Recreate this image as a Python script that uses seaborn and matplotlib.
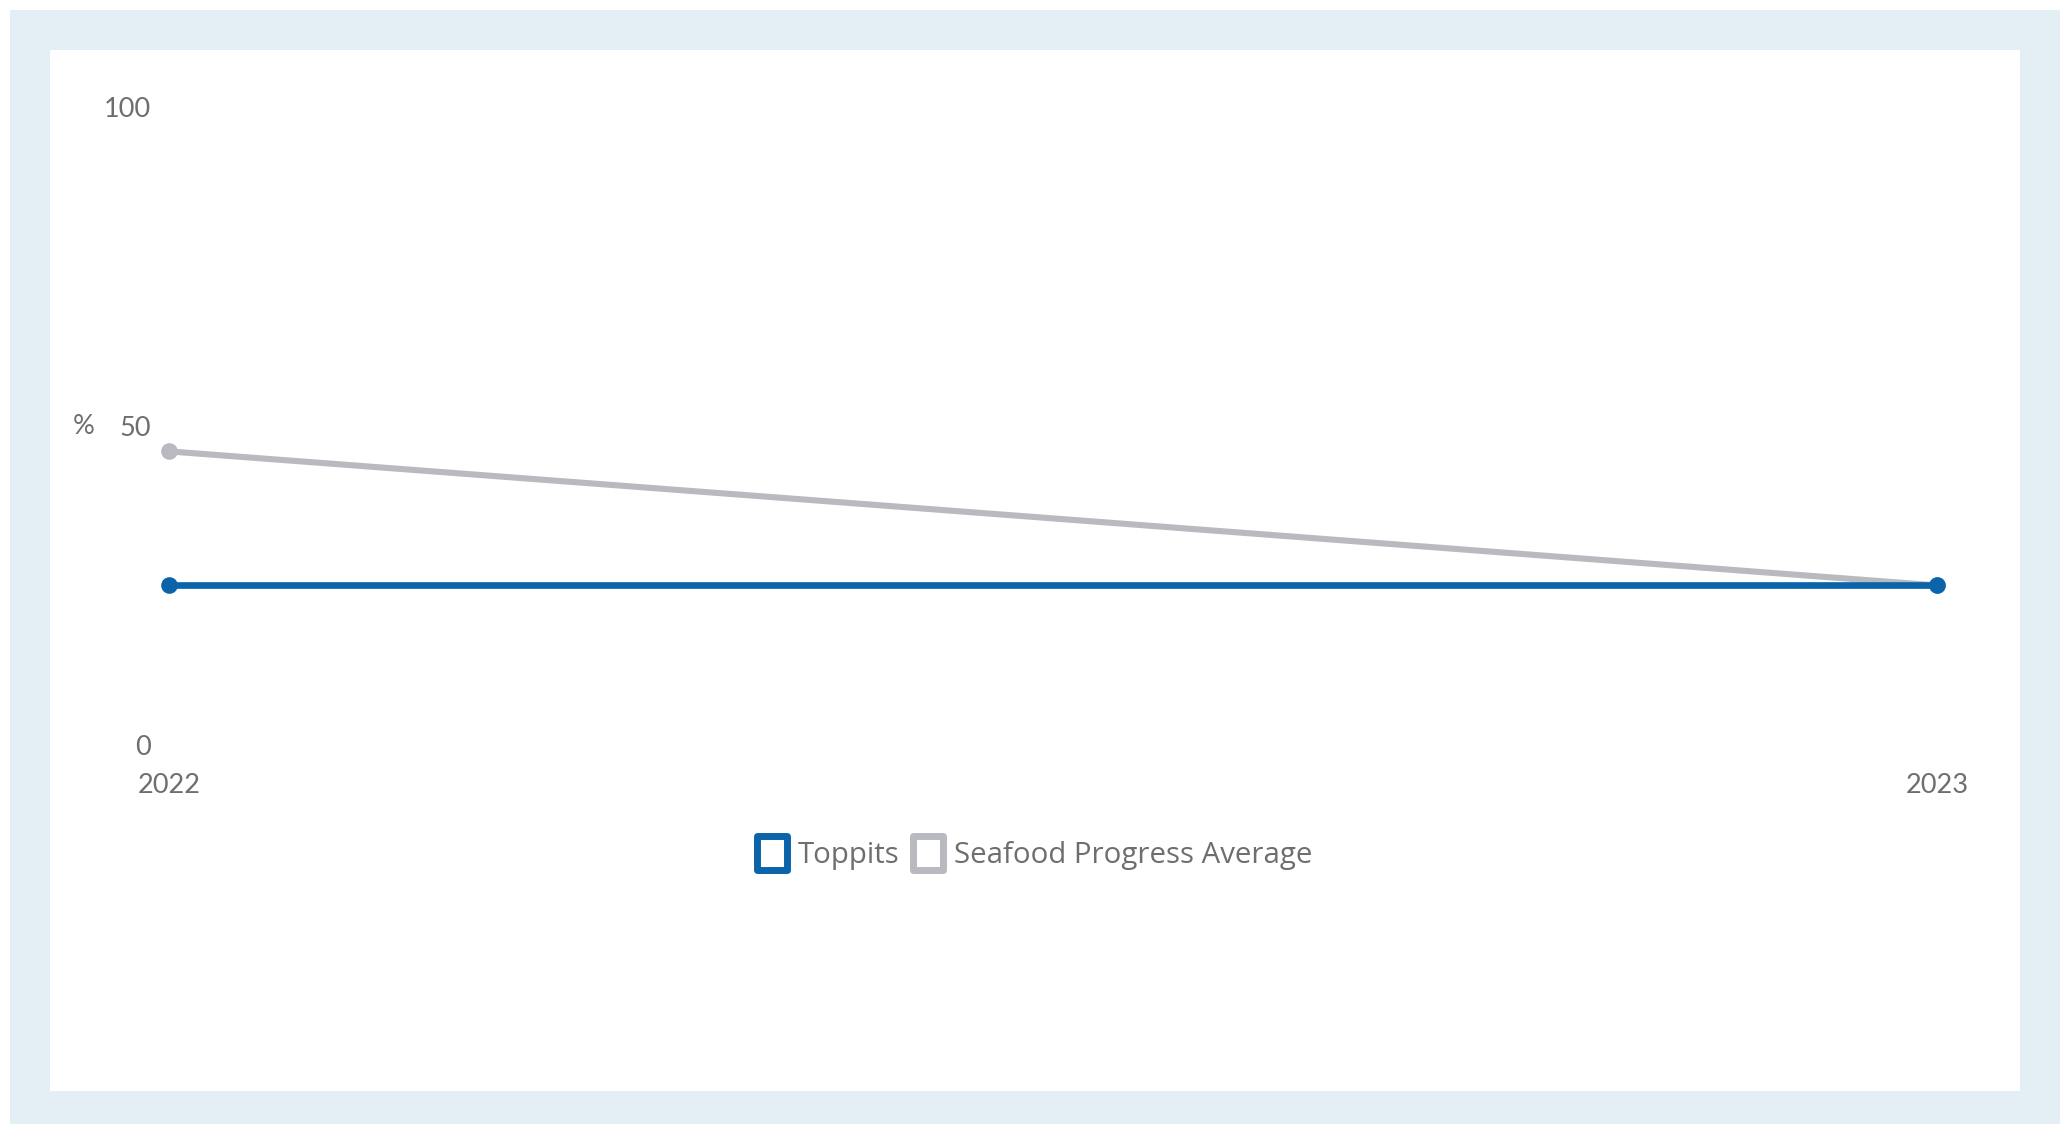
import matplotlib
matplotlib.use("Agg")
import matplotlib.pyplot as plt
from matplotlib.patches import Rectangle
from matplotlib.lines import Line2D
from matplotlib.path import Path
import seaborn as sns
import pandas as pd

# Data
years = [2022, 2023]
toppits = [25, 25]
seafood_avg = [46, 25]
series_names = ["Toppits", "Seafood Progress Average"]
y_ticks = [0, 50, 100]
x_tick_labels = ["2022", "2023"]

BLUE = "#0b63aa"
GRAY = "#b9b9c0"
FRAME = "#e3eef5"
TEXT = "#6e6e6e"

sns.set_theme(style="white")
plt.rcParams["font.family"] = ["Lato", "DejaVu Sans"]

W, H = 2072, 1124
fig = plt.figure(figsize=(W / 100, H / 100), dpi=100)
fig.patch.set_facecolor("white")

# Light blue frame with white card inside
fig.patches.append(Rectangle((10 / W, 0), 2050 / W, 1114 / H,
                             transform=fig.transFigure, facecolor=FRAME,
                             edgecolor="none", zorder=-2))
fig.patches.append(Rectangle((50 / W, 33 / H), 1970 / W, 1041 / H,
                             transform=fig.transFigure, facecolor="white",
                             edgecolor="none", zorder=-1))

ax = fig.add_axes([169 / W, 379 / H, 1768 / W, 638.3 / H])
ax.set_facecolor("none")

df = pd.DataFrame({
    "year": years * 2,
    "value": seafood_avg + toppits,
    "series": [series_names[1]] * len(years) + [series_names[0]] * len(years),
})

sns.lineplot(data=df[df["series"] == series_names[1]], x="year", y="value",
             color=GRAY, linewidth=4.4, marker="o", markersize=12,
             markeredgewidth=0, ax=ax, legend=False, clip_on=False)
sns.lineplot(data=df[df["series"] == series_names[0]], x="year", y="value",
             color=BLUE, linewidth=4.8, marker="o", markersize=12,
             markeredgewidth=0, ax=ax, legend=False, clip_on=False)

ax.set_xlim(years[0], years[-1])
ax.set_ylim(0, 100)
ax.set_xticks(years)
ax.set_xticklabels(x_tick_labels)
ax.set_yticks(y_ticks)
ax.set_yticklabels([str(v) for v in y_ticks])
ax.tick_params(axis="x", length=0, pad=20, labelsize=19.5, labelcolor=TEXT)
ax.tick_params(axis="y", length=0, pad=13, labelsize=19.5, labelcolor=TEXT)
ax.set_xlabel("")
ax.set_ylabel("")
ax.grid(False)
for s in ax.spines.values():
    s.set_visible(False)

fig.text(84 / W, (H - 427) / H, "%", ha="center", va="center",
         fontsize=19.5, color=TEXT)

# Legend with hollow square keys
box = Path([(-0.43, -0.5), (0.43, -0.5), (0.43, 0.5), (-0.43, 0.5), (-0.43, -0.5)],
           [Path.MOVETO, Path.LINETO, Path.LINETO, Path.LINETO, Path.CLOSEPOLY])
handles = [
    Line2D([], [], linestyle="none", marker=box, markersize=25,
           markerfacecolor="white", markeredgecolor=BLUE, markeredgewidth=5),
    Line2D([], [], linestyle="none", marker=box, markersize=25,
           markerfacecolor="white", markeredgecolor=GRAY, markeredgewidth=5),
]
leg = fig.legend(handles, series_names, loc="center",
                 bbox_to_anchor=(1034 / W, (H - 856) / H), ncol=2,
                 frameon=False, handlelength=1.05, handletextpad=0.35,
                 columnspacing=0.45,
                 prop={"family": ["Open Sans", "DejaVu Sans"], "size": 21.2})
for t in leg.get_texts():
    t.set_color(TEXT)

fig.savefig("out.png", dpi=100, facecolor="white")
